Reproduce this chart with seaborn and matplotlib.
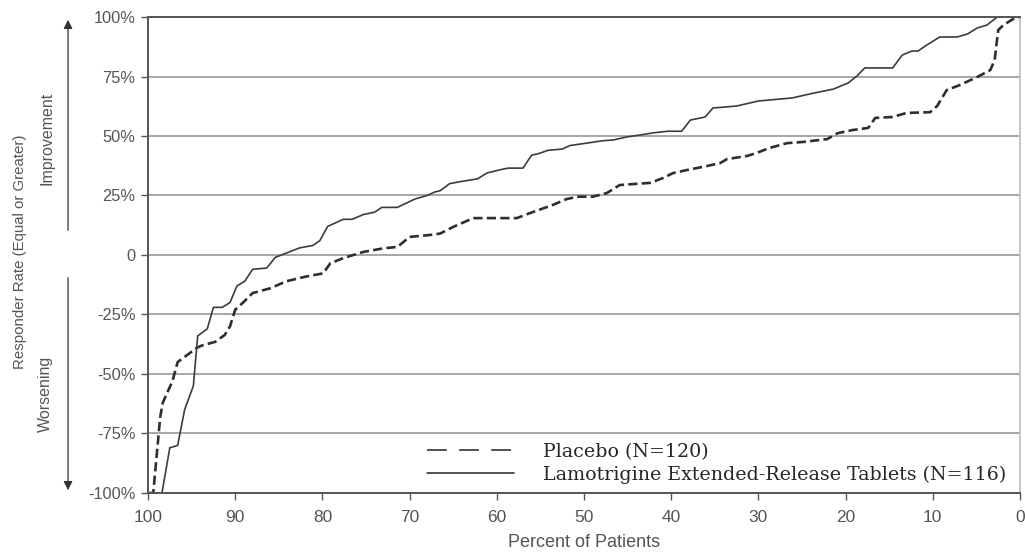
import matplotlib
matplotlib.use("Agg")
import matplotlib.pyplot as plt
from matplotlib.lines import Line2D
import numpy as np
import pandas as pd
import seaborn as sns

# Lamotrigine ER curve (percent of patients, responder rate %)
lam_x = [100, 98.4, 97.5, 96.6, 95.8, 94.8, 94.3, 93.2, 92.5, 91.5, 90.6, 89.8, 88.9, 88, 86.4,
         85.4, 84, 82.6, 81.1, 80.3, 79.4, 77.6, 76.6, 75.3, 74, 73.2, 71.4, 69.4, 68, 67.1,
         66.5, 65.4, 63.9, 62.2, 61.1, 59.4, 58.7, 57, 56, 55.3, 54.1, 52.5, 51.6, 49.7, 47.9,
         46.7, 45.1, 43.6, 42.1, 40.4, 38.8, 37.8, 36.1, 35.2, 34.4, 32.5, 30, 26.1, 23.7, 21.4,
         19.7, 18.7, 17.8, 14.6, 13.5, 12.4, 11.7, 10.7, 9.2, 7.2, 6, 4.9, 3.8, 2.6, 0]
lam_y = [-100, -100, -81, -80, -65, -55, -34, -31, -22, -22, -20, -13, -11, -6, -5.5,
         -1, 1, 3, 4, 6, 12, 15, 15, 17, 18, 20, 20, 23.5, 25, 26.5,
         27, 30, 31, 32, 34.5, 36, 36.5, 36.5, 42, 42.5, 44, 44.5, 46, 47, 48,
         48.3, 49.6, 50.4, 51.3, 52, 52, 56.7, 58, 61.8, 62, 62.6, 64.7, 66, 68, 69.7,
         72.3, 75.2, 78.6, 78.6, 84, 85.7, 85.7, 88.2, 91.6, 91.6, 92.9, 95.4, 96.6, 100, 100]

# Placebo curve
pla_x = [100, 99.4, 98.6, 98.3, 97.2, 96.6, 94.4, 93.8, 92.3, 91.2, 90.6, 90, 89.1, 88, 86,
         84.1, 81.8, 79.9, 79.1, 77.6, 75.3, 73, 71.4, 70, 67.7, 66.5, 65, 62.7, 57.7, 56.2,
         53.6, 52, 50.7, 49, 47.4, 45.9, 42.4, 40.9, 39.8, 38.2, 36.4, 34.4, 33.6, 31.3, 30.2,
         28.7, 26.7, 24.9, 22.1, 20.9, 19.2, 17.4, 16.6, 14.6, 13, 10.3, 9.5, 8.4, 6.9, 4.9,
         3.4, 2.9, 2.5, 1.9, 0.6, 0]
pla_y = [-100, -100, -68, -62, -53, -45, -39, -38, -36.5, -33.6, -30, -23, -20, -16, -14,
         -11, -9, -7.7, -3.5, -1.3, 1.3, 2.8, 3.4, 7.6, 8.4, 9, 11.8, 15.5, 15.5, 17.6,
         21, 23.5, 24.5, 24.5, 26, 29.4, 30.3, 32.4, 34.4, 35.7, 37, 38.6, 40.3, 41.6, 42.9,
         45, 47, 47.5, 48.7, 51.2, 52.5, 53.4, 57.6, 58, 59.7, 60, 62.6, 69.3, 71.4, 74.8,
         77.7, 82, 94.5, 96.6, 99.6, 100]

y_ticks = [100, 75, 50, 25, 0, -25, -50, -75, -100]
y_labels = ["100%", "75%", "50%", "25%", "0", "-25%", "-50%", "-75%", "-100%"]
x_ticks = [100, 90, 80, 70, 60, 50, 40, 30, 20, 10, 0]

labels = ["Placebo (N=120)", "Lamotrigine Extended-Release Tablets (N=116)"]

sns.set_style("white")
plt.rcParams['font.family'] = ['Liberation Sans', 'DejaVu Sans']

fig = plt.figure(figsize=(10.25, 5.52), dpi=100)
ax = fig.add_axes([0.1444, 0.1069, 0.8507, 0.8623])

df_pla = pd.DataFrame({"x": pla_x, "y": pla_y})
df_lam = pd.DataFrame({"x": lam_x, "y": lam_y})

# gridlines
for t in y_ticks:
    ax.axhline(t, color="#8f8f8f", lw=1.1, zorder=0)

sns.lineplot(data=df_pla, x="x", y="y", ax=ax, color="#2e2e2e", lw=1.9,
             estimator=None, sort=False)
ax.lines[-1].set_dashes((3.5, 1.6))
sns.lineplot(data=df_lam, x="x", y="y", ax=ax, color="#3c3c3c", lw=1.2,
             estimator=None, sort=False)

ax.set_xlim(100, 0)
ax.set_ylim(-100, 100)
ax.set_yticks(y_ticks)
ax.set_yticklabels(y_labels)
ax.set_xticks(x_ticks)
ax.tick_params(axis="both", colors="#555555", length=5, width=1, direction="out")
ax.tick_params(axis="y", pad=4, labelsize=11.8)
ax.tick_params(axis="x", pad=7, labelsize=12.5)
ax.tick_params(axis="both", which="both", bottom=True, left=True)
ax.set_xlabel("Percent of Patients", color="#555555", fontsize=13, labelpad=7)
ax.set_ylabel("")

for s in ["left", "bottom", "top"]:
    ax.spines[s].set_color("#555555")
    ax.spines[s].set_linewidth(1.4)
ax.spines["right"].set_color("#bbbbbb")
ax.spines["right"].set_linewidth(1.2)

# left side annotations
ax.annotate("", xy=(-0.0917, 1.0), xytext=(-0.0917, 0.546), xycoords="axes fraction",
            arrowprops=dict(arrowstyle="-|>", color="#333333", lw=0.9, mutation_scale=13),
            annotation_clip=False)
ax.annotate("", xy=(-0.0917, 0.0), xytext=(-0.0917, 0.458), xycoords="axes fraction",
            arrowprops=dict(arrowstyle="-|>", color="#333333", lw=0.9, mutation_scale=13),
            annotation_clip=False)
ax.text(-0.1158, 0.746, "Improvement", transform=ax.transAxes, rotation=90,
        ha="center", va="center", fontsize=11.5, color="#555555")
ax.text(-0.118, 0.208, "Worsening", transform=ax.transAxes, rotation=90,
        ha="center", va="center", fontsize=11.5, color="#555555")
ax.text(-0.1468, 0.506, "Responder Rate (Equal or Greater)", transform=ax.transAxes,
        rotation=90, ha="center", va="center", fontsize=10.8, color="#555555")

handles = [Line2D([], [], color="#222222", lw=1.1, dashes=(13, 8)),
           Line2D([], [], color="#222222", lw=1.1)]
leg = ax.legend(handles, labels, loc="lower right", bbox_to_anchor=(0.997, -0.005),
                frameon=False, handlelength=4.6, handletextpad=1.5, labelspacing=0.25,
                borderaxespad=0.2, prop={"family": "DejaVu Serif", "size": 13.7})

fig.savefig("out.png", dpi=100)
